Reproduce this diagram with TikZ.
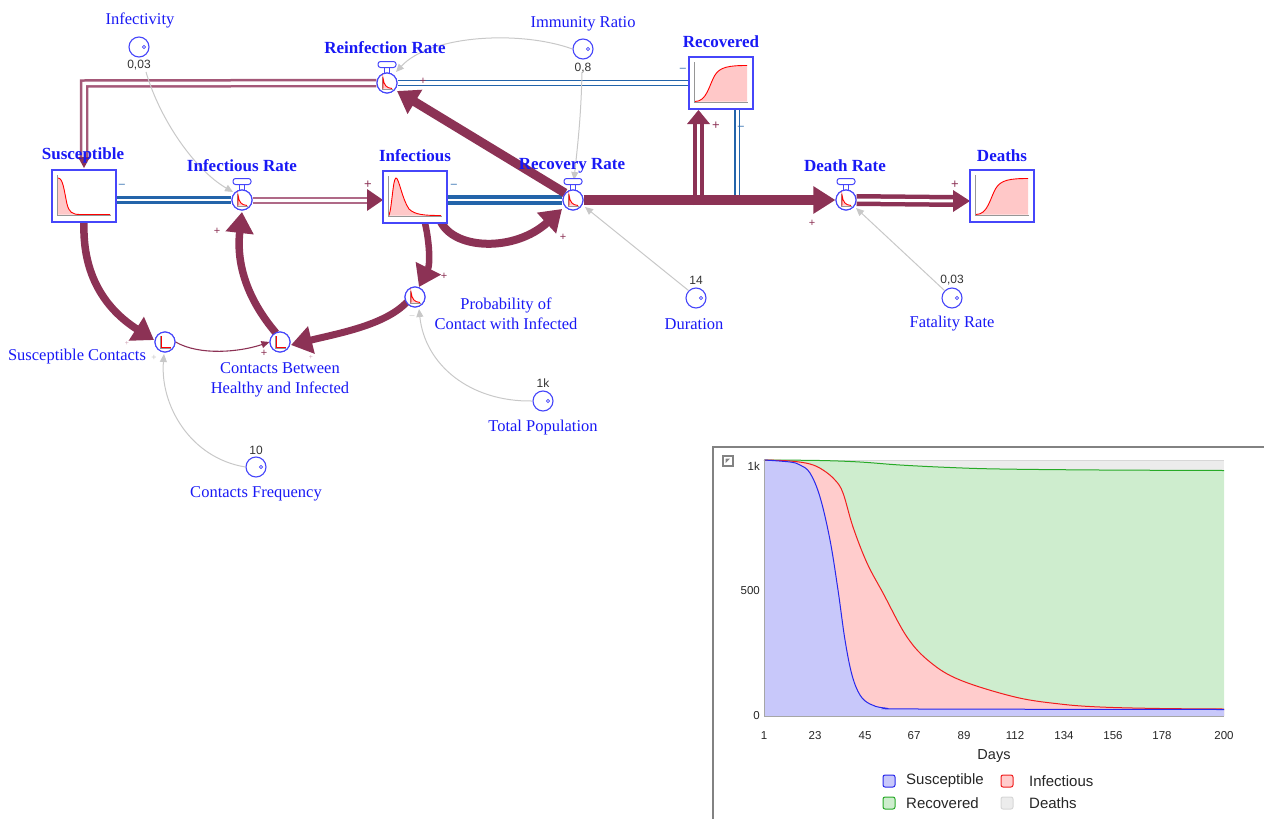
\documentclass[tikz,border=0pt]{standalone}
\usepackage{fontspec}
\setmainfont{Liberation Serif}
\newfontfamily\arialf{Liberation Sans}
\usetikzlibrary{arrows.meta,calc}
\definecolor{txtblue}{RGB}{25,25,245}
\definecolor{stockblue}{RGB}{70,70,250}
\definecolor{mauve}{RGB}{140,50,85}
\definecolor{lmauve}{RGB}{175,105,135}
\definecolor{flowblue}{RGB}{35,100,170}
\definecolor{linkgray}{RGB}{200,200,200}
\definecolor{pinkf}{RGB}{255,200,200}
\definecolor{axgray}{RGB}{150,150,150}
\definecolor{cblue}{RGB}{200,200,250}
\definecolor{cblueL}{RGB}{40,40,235}
\definecolor{cred}{RGB}{255,204,204}
\definecolor{credL}{RGB}{240,30,30}
\definecolor{cgreen}{RGB}{206,237,206}
\definecolor{cgreenL}{RGB}{40,170,40}
\definecolor{cgray}{RGB}{236,236,236}
\definecolor{cgrayL}{RGB}{215,215,215}
\definecolor{panel}{RGB}{130,130,130}
\begin{document}
\begin{tikzpicture}[x=1pt,y=-1pt,
  stock/.style={rectangle,draw=stockblue,line width=1.3pt,fill=white,minimum width=64pt,minimum height=52pt,inner sep=0pt},
  vcirc/.style={circle,draw=stockblue,line width=1.1pt,fill=white,minimum size=20pt,inner sep=0pt},
  lbl/.style={text=txtblue,font=\fontsize{16.5}{20}\selectfont,align=center,inner sep=0pt},
  ttl/.style={text=txtblue,font=\bfseries\fontsize{17}{19}\selectfont,inner sep=0pt},
  val/.style={font=\arialf\fontsize{12}{13}\selectfont,text=black!80,inner sep=0pt},
  pl/.style={text=mauve,font=\arialf\fontsize{11}{11}\selectfont,inner sep=0pt},
  mi/.style={text=flowblue,font=\arialf\fontsize{11}{11}\selectfont,inner sep=0pt},
  thicklink/.style={draw=mauve,line width=#1,-{Triangle[length=21pt,width=27pt]}},
  glink/.style={draw=linkgray,line width=1pt,-{Triangle[length=8pt,width=7pt]}},
  tick/.style={font=\arialf\fontsize{11.5}{13}\selectfont,text=black!85,inner sep=0pt},
  leg/.style={font=\arialf\fontsize{15}{17}\selectfont,text=black!85,inner sep=0pt,anchor=west},
  decay/.pic={
    \fill[pinkf] (-26,18.5) -- (-26,-18) .. controls (-21,-18) and (-20,-6) .. (-17,8) .. controls (-15,16) and (-12,18.5) .. (-4,18.5) -- (26,18.5) -- cycle;
    \draw[red,line width=0.9pt] (-26,-18) .. controls (-21,-18) and (-20,-6) .. (-17,8) .. controls (-15,16) and (-12,18.5) .. (-4,18.5) -- (26,18.5);
    \draw[axgray,line width=1pt] (-27,-21) -- (-27,19.5) -- (27,19.5);},
  peak/.pic={
    \fill[pinkf] (-26,18.5) .. controls (-23,10) and (-22,-19) .. (-19,-19) .. controls (-16,-19) and (-13,2) .. (-6,12) .. controls (0,18) and (10,18.5) .. (26,18.5) -- cycle;
    \draw[red,line width=0.9pt] (-26,18.5) .. controls (-23,10) and (-22,-19) .. (-19,-19) .. controls (-16,-19) and (-13,2) .. (-6,12) .. controls (0,18) and (10,18.5) .. (26,18.5);
    \draw[axgray,line width=1pt] (-27,-21) -- (-27,19.5) -- (27,19.5);},
  sigm/.pic={
    \fill[pinkf] (-26,18.5) .. controls (-14,18.5) and (-12,2) .. (-6,-8) .. controls (-1,-16) and (8,-17.5) .. (26,-17.5) -- (26,18.5) -- cycle;
    \draw[red,line width=0.9pt] (-26,18.5) .. controls (-14,18.5) and (-12,2) .. (-6,-8) .. controls (-1,-16) and (8,-17.5) .. (26,-17.5);
    \draw[axgray,line width=1pt] (-27,-21) -- (-27,19.5) -- (27,19.5);},
  handle/.pic={
    \draw[stockblue,line width=1pt,fill=white,rounded corners=2.5pt] (-9,-21.5) rectangle (9,-15.5);
    \draw[stockblue,line width=1pt] (-2.5,-15.5) -- (-2.5,-10.5) (2.5,-15.5) -- (2.5,-10.5);},
  mini/.pic={
    \draw[axgray,line width=0.5pt] (-5,-6) -- (-5,6) -- (6,6);
    \fill[pinkf] (-4,5.5) -- (-4,-5) .. controls (-3,2) and (-1,5) .. (5,5.5) -- cycle;
    \draw[red,line width=0.9pt] (-4,5.5) -- (-4,-5) .. controls (-3,2) and (-1,5) .. (5,5.5);},
  miniL/.pic={
    \draw[axgray,line width=0.5pt] (-5,-6) -- (-5,6) -- (6,6);
    \draw[red,line width=1pt] (-4,-6) -- (-4,5) -- (6,5);},
  dot/.pic={\draw[stockblue,line width=0.8pt] (5,0) circle (1.6pt);}
]
\useasboundingbox (0,0) rectangle (1264,819);

% ---------- flow end points ----------
\coordinate (sIn) at (84,168);
\coordinate (iIn) at (383,200);
\coordinate (rIn) at (698.5,110);
\coordinate (rOut) at (737,109);
\coordinate (rOutEnd) at (737,197);
\coordinate (dIn) at (970,201);

\path (84,196) coordinate (Sc) (415,197) coordinate (Ic) (721,83) coordinate (Rc) (1002,196) coordinate (Dc);

\node[vcirc] (IR) at (242,200) {};
\node[vcirc] (RF) at (387,83) {};
\node[vcirc] (RR) at (573,200) {};
\node[vcirc] (DR) at (846,200) {};
\node[stock] (S) at (Sc) {};
\node[stock] (I) at (Ic) {};
\node[stock] (R) at (Rc) {};
\node[stock] (D) at (Dc) {};

% Reinfection Rate -> Susceptible
\draw[lmauve!70!mauve,line width=2.5pt,double=white,double distance=3.5pt] (RF.west) -- (84,83.5) -- ($(sIn)+(0,-8)$);
\fill[mauve] (sIn) -- ++(-6,-11) -- ++(12,0) -- cycle;
% Recovered -> Reinfection Rate
\draw[flowblue,line width=1.4pt,double=white,double distance=4pt] (R.west |- RF) -- (RF.east);
% Susceptible -> Infectious Rate
\draw[flowblue,line width=3pt,double=white,double distance=2pt] (S.east |- IR) -- (IR.west);
% Infectious Rate -> Infectious
\draw[lmauve,line width=2pt,double=white,double distance=3pt] (IR.east) -- ($(iIn)+(-15,0)$);
\fill[mauve] (iIn) -- ++(-16,-11) -- ++(0,22) -- cycle;
% Infectious -> Recovery Rate
\draw[flowblue,line width=4pt,double=white,double distance=2pt] (I.east |- RR) -- (RR.west);
% Recovery Rate -> Recovered (vertical)
\draw[mauve,line width=4pt,double=white,double distance=3pt] (698.5,205) -- ($(rIn)+(0,14)$);
\fill[mauve] (rIn) -- ++(-11.5,14) -- ++(23,0) -- cycle;
% Recovered -> Death Rate (blue vertical)
\draw[flowblue,line width=1.3pt,double=white,double distance=3pt] (rOut) -- (rOutEnd);
% Recovery Rate -> Death Rate (thick)
\draw[mauve,line width=10pt,-{Triangle[length=22pt,width=26pt]}] (RR.east) -- (DR.west);
% Death Rate -> Deaths
\draw[mauve,line width=4.5pt,double=white,double distance=3pt] (DR.east) -- ($(dIn)+(-16,0)$);
\fill[mauve] (dIn) -- ++(-17,-11) -- ++(0,22) -- cycle;

% ---------- converters / aux ----------
\node[vcirc] (INF) at (139,47) {}; \pic at (INF) {dot};
\node[vcirc] (IMM) at (583,49) {}; \pic at (IMM) {dot};
\node[vcirc] (DUR) at (696,298) {}; \pic at (DUR) {dot};
\node[vcirc] (FAT) at (952,298) {}; \pic at (FAT) {dot};
\node[vcirc] (TP) at (543,401) {}; \pic at (TP) {dot};
\node[vcirc] (CF) at (256,467) {}; \pic at (CF) {dot};
\node[vcirc] (SC) at (165,342) {}; \pic at (SC) {miniL};
\node[vcirc] (CB) at (280,342) {}; \pic at (CB) {miniL};
\node[vcirc] (PC) at (415,297) {}; \pic at (PC) {mini};

% ---------- gray links ----------
\draw[glink] (146,72) .. controls (160,120) and (195,170) .. (233,192);
\draw[glink] (IMM.west) .. controls (520,30) and (430,35) .. (396,72);
\draw[glink] (582,72) .. controls (581,120) and (577,150) .. (574,180);
\draw[glink] (DUR.north west) -- (585,207);
\draw[glink] (FAT.north west) -- (856,208);
\draw[glink] (TP.west) .. controls (470,402) and (425,365) .. (419,309);
\draw[glink] (CF.west) .. controls (190,458) and (160,405) .. (164,354);

% ---------- thick links ----------
\draw[thicklink=8pt] (441,222) .. controls (455,250) and (515,252) .. (562,209);
\draw[thicklink=9pt] (565,193) -- (397,91);
\draw[thicklink=6.5pt] (425,223) .. controls (430,245) and (430,265) .. (419,287);
\draw[thicklink=7pt] (407,302) .. controls (385,325) and (340,333) .. (291,345);
\draw[thicklink=7.5pt] (276,333) .. controls (248,300) and (236,265) .. (242,212);
\draw[thicklink=7.5pt] (84,222) .. controls (82,280) and (110,312) .. (154,340);
\draw[mauve,line width=1.1pt,-{Triangle[length=8pt,width=7pt]}] (SC.east) .. controls (200,356) and (240,352) .. (CB.west);

% ---------- redraw valves/stocks on top ----------
\foreach \v in {IR,RF,RR,DR}{\pic at (\v) {handle}; \node[vcirc] at (\v) {}; \pic at (\v) {mini};}
\node[stock] at (Sc) {}; \pic at (Sc) {decay};
\node[stock] at (Ic) {}; \pic at (Ic) {peak};
\node[stock] at (Rc) {}; \pic at (Rc) {sigm};
\node[stock] at (Dc) {}; \pic at (Dc) {sigm};
\node[vcirc] at (SC) {}; \pic at (SC) {miniL};
\node[vcirc] at (CB) {}; \pic at (CB) {miniL};
\node[vcirc] at (PC) {}; \pic at (PC) {mini};

% ---------- labels ----------
\node[ttl] (tS) at (83,155) {Susceptible};
\node[ttl] (tIR) at (242,166) {Infectious Rate};
\node[ttl] (tI) at (415,156) {Infectious};
\node[ttl] (tRF) at (385,48) {Reinfection Rate};
\node[ttl] (tR) at (721,42) {Recovered};
\node[ttl] (tRR) at (572,166) {Recovery Rate};
\node[ttl] (tDR) at (845,166) {Death Rate};
\node[ttl] (tD) at (1002,156) {Deaths};
\node[lbl] (lINF) at (140,20) {Infectivity};
\node[lbl] (lIMM) at (583,24) {Immunity Ratio};
\node[lbl] (lDUR) at (694,324) {Duration};
\node[lbl] (lFAT) at (952,324) {Fatality Rate};
\node[lbl] (lPC) at (506,314) {Probability of\\Contact with Infected};
\node[lbl] (lTP) at (543,428) {Total Population};
\node[lbl] (lSC) at (77,357) {Susceptible Contacts};
\node[lbl] (lCB) at (280,380) {Contacts Between\\Healthy and Infected};
\node[lbl] (lCF) at (256,494) {Contacts Frequency};
\node[val] (vINF) at (139,65) {0,03};
\node[val] (vIMM) at (583,68) {0,8};
\node[val] (vDUR) at (696,280) {14};
\node[val] (vFAT) at (952,280) {0,03};
\node[val] (vTP) at (543,383) {1k};
\node[val] (vCF) at (256,450) {10};

% ---------- signs ----------
\node[mi] at (122,186) {\textendash};
\node[pl] at (217,231) {+};
\node[pl,font=\arialf\fontsize{13}{13}\selectfont] at (368,185) {+};
\node[mi] at (454,186) {\textendash};
\node[pl] at (423,81) {+};
\node[pl] at (563,237) {+};
\node[mi] at (683,70) {\textendash};
\node[pl,font=\arialf\fontsize{13}{13}\selectfont] at (716,126) {+};
\node[mi] at (741,128) {\textendash};
\node[pl] at (812,223) {+};
\node[pl,font=\arialf\fontsize{13}{13}\selectfont] at (955,185) {+};
\node[pl] at (444,276) {+};
\node[pl] at (264,353) {+};
\node[pl,text=lmauve!60,font=\arialf\fontsize{7}{7}\selectfont] at (127,343) {+};
\node[pl,text=linkgray,font=\arialf\fontsize{9}{9}\selectfont] at (154,358) {+};
\node[pl,text=lmauve!60,font=\arialf\fontsize{7}{7}\selectfont] at (311,357) {+};
\node[mi,text=linkgray,font=\arialf\fontsize{9}{9}\selectfont] at (412,317) {\textendash};

% ---------- chart ----------
\draw[panel,line width=2pt] (713,447) rectangle (1275,835);
\draw[panel,line width=1.2pt] (723,456) rectangle (733,466);
\fill[panel] (725.5,458.5) -- (730,458.5) -- (725.5,463) -- cycle;
\fill[cgray] (764,460) rectangle (1224,716);
\fill[cgreen] (764,716) -- plot[smooth,tension=0.6] coordinates {(764,460) (820,460.5) (860,462) (900,465) (950,467.5) (1000,469) (1100,470) (1224,470.5)} -- (1224,716) -- cycle;
\fill[cred] (764,716) -- plot[smooth,tension=0.6] coordinates {(764,460) (790,461) (810,464) (823,470) (835,480) (843,493) (853,527) (867,563) (883,593) (907,637) (930,662) (960,680) (1015,697) (1060,704) (1100,707) (1160,708.5) (1224,709)} -- (1224,716) -- cycle;
\fill[cblue] (764,716) -- plot[smooth,tension=0.6] coordinates {(764,460) (790,462) (800,465) (810,473) (820,497) (830,540) (838,590) (845,640) (852,675) (860,695) (870,704) (885,708) (920,709) (1224,709.5)} -- (1224,716) -- cycle;
\draw[cgrayL,line width=1pt] (764,460) -- (1224,460);
\draw[cgreenL,line width=1pt] plot[smooth,tension=0.6] coordinates {(764,460) (820,460.5) (860,462) (900,465) (950,467.5) (1000,469) (1100,470) (1224,470.5)};
\draw[credL,line width=1pt] plot[smooth,tension=0.6] coordinates {(764,460) (790,461) (810,464) (823,470) (835,480) (843,493) (853,527) (867,563) (883,593) (907,637) (930,662) (960,680) (1015,697) (1060,704) (1100,707) (1160,708.5) (1224,709)};
\draw[cblueL,line width=1pt] plot[smooth,tension=0.6] coordinates {(764,460) (790,462) (800,465) (810,473) (820,497) (830,540) (838,590) (845,640) (852,675) (860,695) (870,704) (885,708) (920,709) (1224,709.5)};
\draw[black!35,line width=1pt] (764,459) -- (764,716.5) -- (1224,716.5);
\node[tick,anchor=east] at (760,466) {1k};
\node[tick,anchor=east] at (760,591) {500};
\node[tick,anchor=east] at (760,716) {0};
\foreach \x/\lab in {764/1,815/23,865/45,914/67,964/89,1015/112,1064/134,1113/156,1162/178,1224/200}
  \node[tick,anchor=base] at (\x,739) {\lab};
\node[font=\arialf\fontsize{14.5}{16}\selectfont,text=black!85,inner sep=0pt] at (994,756) {Days};
\draw[cblueL,fill=cblue,line width=1pt,rounded corners=2pt] (883,775) rectangle (895,787);
\node[leg] at (906,781) {Susceptible};
\draw[credL,fill=cred,line width=1pt,rounded corners=2pt] (1001,775) rectangle (1013,787);
\node[leg] at (1029,781) {Infectious};
\draw[cgreenL,fill=cgreen,line width=1pt,rounded corners=2pt] (883,797) rectangle (895,809);
\node[leg] at (906,803) {Recovered};
\draw[cgrayL,fill=cgray,line width=1pt,rounded corners=2pt] (1001,797) rectangle (1013,809);
\node[leg] at (1029,803) {Deaths};
\end{tikzpicture}
\end{document}
